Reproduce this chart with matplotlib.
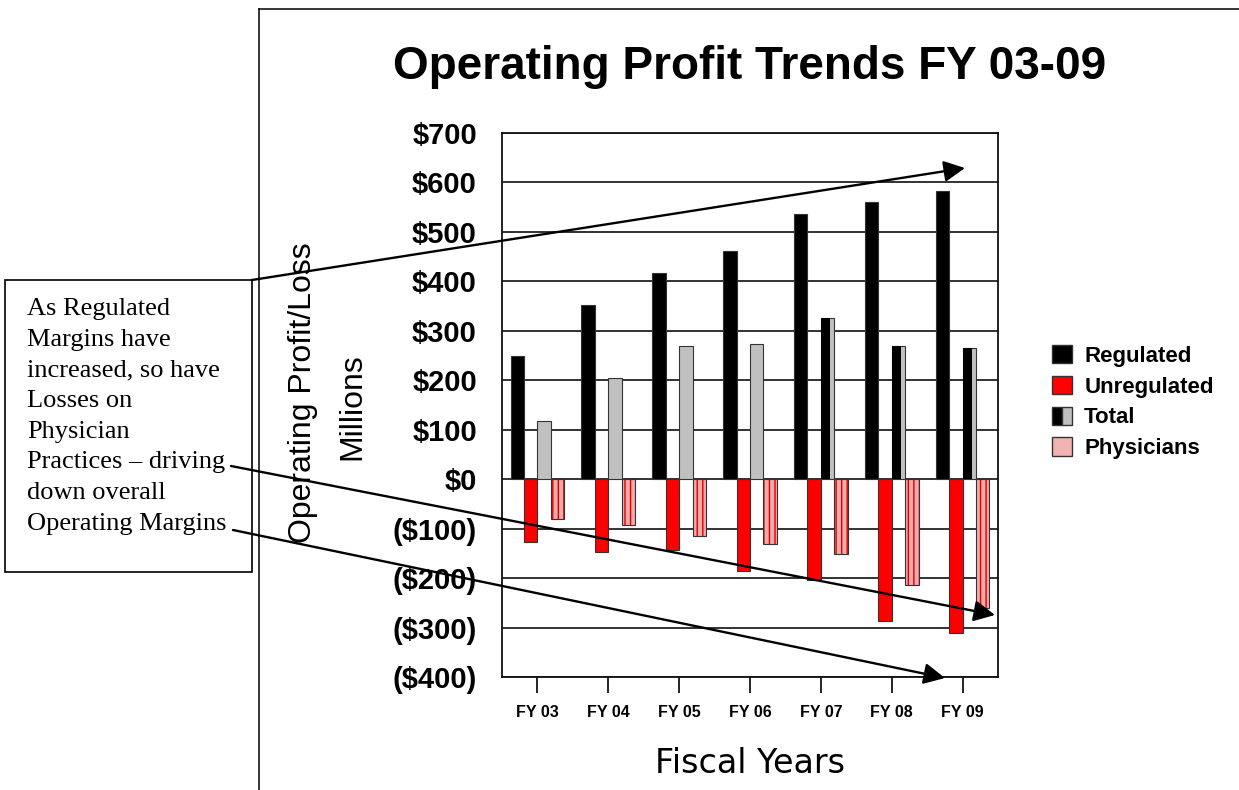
import matplotlib
matplotlib.use("Agg")
import matplotlib.pyplot as plt
from matplotlib.patches import Patch, Rectangle, FancyArrowPatch
from matplotlib.legend_handler import HandlerTuple
from matplotlib.lines import Line2D
import numpy as np

plt.rcParams["font.family"] = ["Liberation Sans", "DejaVu Sans"]

# data ($ millions)
years = ["FY 03", "FY 04", "FY 05", "FY 06", "FY 07", "FY 08", "FY 09"]
regulated = [250, 353, 417, 462, 537, 560, 582]
unregulated = [-128, -147, -143, -186, -203, -286, -312]
total = [118, 204, 270, 273, 325, 269, 266]
physicians = [-80, -92, -114, -131, -152, -213, -261]

y_ticks = [700, 600, 500, 400, 300, 200, 100, 0, -100, -200, -300, -400]

note_lines = [
    "As Regulated",
    "Margins have",
    "increased, so have",
    "Losses on",
    "Physician",
    "Practices \u2013 driving",
    "down overall",
    "Operating Margins",
]

W, H = 1239, 790


def fx(px):
    return px / W


def fy(py):
    return 1 - py / H


def money(v):
    return f"${v:,.0f}" if v >= 0 else f"(${-v:,.0f})"


fig = plt.figure(figsize=(W / 100, H / 100), dpi=100)
ax = fig.add_axes([fx(502), fy(677), fx(998) - fx(502), fy(133) - fy(677)])

x = np.arange(len(years))
w = 0.19
edge = "#333333"

ax.bar(x - 1.5 * w, regulated, w, color="black", edgecolor=edge, linewidth=0.8, zorder=3)
ax.bar(x - 0.5 * w, unregulated, w, color="#ff0000", edgecolor=edge, linewidth=0.8, zorder=3)

# total bars: grey, the later years drawn with a dark left part like the original pattern
dark_total = [False, False, False, False, True, True, True]
ax.bar(x + 0.5 * w, total, w, color="#c0c0c0", edgecolor=edge, linewidth=0.8, zorder=3)
for i, dark in enumerate(dark_total):
    if dark:
        ax.bar(x[i] + 0.5 * w - 0.15 * w, total[i], 0.7 * w, color="black",
               linewidth=0, zorder=3.5)

ax.bar(x + 1.5 * w, physicians, w, color="#f0aaaa", edgecolor="#e00000",
       hatch="|||", linewidth=0, zorder=3)
ax.bar(x + 1.5 * w, physicians, w, color="none", edgecolor=edge, linewidth=0.8, zorder=3.6)

ax.set_xlim(-0.5, len(years) - 0.5)
ax.set_ylim(-400, 700)
ax.set_yticks(y_ticks)
ax.set_yticklabels([money(v) for v in y_ticks], fontsize=21, fontweight="bold")
ax.tick_params(axis="y", length=0, pad=18)
ax.set_xticks(x)
ax.set_xticklabels(years, fontsize=11.5, fontweight="bold")
ax.tick_params(axis="x", length=11.5, width=1.2, pad=9, direction="out")
ax.yaxis.grid(True, color="#222222", linewidth=1.3)
ax.set_axisbelow(True)
for s in ax.spines.values():
    s.set_linewidth(1.3)
    s.set_color("#111111")

# titles and axis labels
fig.text(fx(750), fy(79), "Operating Profit Trends FY 03-09", ha="center",
         va="baseline", fontsize=33, fontweight="bold")
fig.text(fx(750), fy(773), "Fiscal Years", ha="center", va="baseline",
         fontsize=24, family="DejaVu Sans")
fig.text(fx(303), fy(393), "Operating Profit/Loss", rotation=90, ha="center",
         va="center", fontsize=23)
fig.text(fx(352), fy(407), "Millions", rotation=90, ha="center", va="center",
         fontsize=23)

# legend
handles = [
    Patch(facecolor="black", edgecolor=edge),
    Patch(facecolor="#ff0000", edgecolor=edge),
    (Patch(facecolor="black", edgecolor=edge), Patch(facecolor="#c0c0c0", edgecolor=edge)),
    Patch(facecolor="#f2b3b3", edgecolor=edge),
]
fig.legend(handles, ["Regulated", "Unregulated", "Total", "Physicians"],
           loc="upper left", bbox_to_anchor=(fx(1052), fy(345)),
           frameon=False, prop={"size": 16, "weight": "bold"},
           handlelength=0.9, handleheight=0.9, handletextpad=0.55,
           labelspacing=0.4, borderpad=0, borderaxespad=0,
           handler_map={tuple: HandlerTuple(ndivide=None, pad=0)})

# page frame lines
fig.add_artist(Line2D([fx(259), fx(259)], [fy(9), 0], color="black", lw=1.1,
                      transform=fig.transFigure))
fig.add_artist(Line2D([fx(259), 1], [fy(9), fy(9)], color="black", lw=1.1,
                      transform=fig.transFigure))

# note box
fig.add_artist(Rectangle((fx(5), fy(572)), fx(252) - fx(5), fy(280) - fy(572),
                         fill=False, edgecolor="black", lw=1.2,
                         transform=fig.transFigure))
fig.text(fx(27), fy(298), "\n".join(note_lines), ha="left", va="top",
         fontsize=19, family="Liberation Serif", linespacing=1.51)

# arrows
arrow_kw = dict(arrowstyle="-|>", color="black", lw=1.7, mutation_scale=32,
                shrinkA=0, shrinkB=0)
for (x0, y0), (x1, y1) in [((252, 280), (965, 168)),
                           ((231, 466), (995, 615)),
                           ((233, 530), (945, 678))]:
    fig.add_artist(FancyArrowPatch(
        (fx(x0), fy(y0)), (fx(x1), fy(y1)), transform=fig.transFigure,
        zorder=10, **arrow_kw))

fig.savefig("out.png", dpi=100)
